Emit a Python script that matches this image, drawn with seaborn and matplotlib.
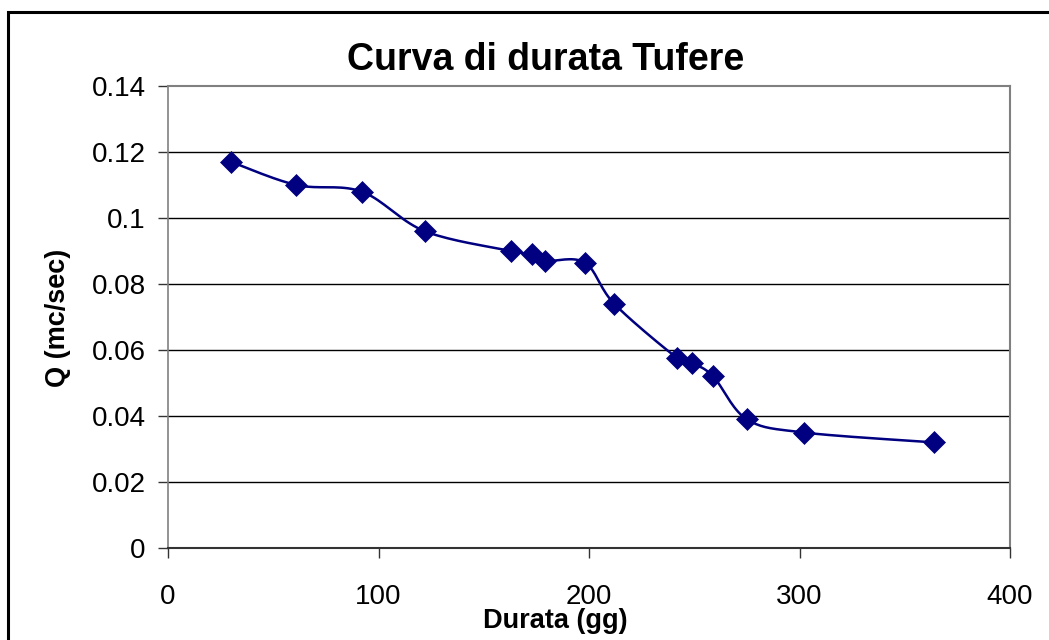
import numpy as np
import pandas as pd
import matplotlib
matplotlib.use("Agg")
import matplotlib.pyplot as plt
import seaborn as sns
from matplotlib.patches import Rectangle

# ---- data ----
durata = [30, 61, 92, 122, 163, 173, 179, 198, 212, 242, 249, 259, 275, 302, 364]
portata = [0.117, 0.110, 0.108, 0.096, 0.090, 0.089, 0.087, 0.0865, 0.074, 0.0575,
           0.056, 0.052, 0.039, 0.035, 0.032]
x_ticks = [0, 100, 200, 300, 400]
y_ticks = [0, 0.02, 0.04, 0.06, 0.08, 0.1, 0.12, 0.14]
y_labels = ["0", "0.02", "0.04", "0.06", "0.08", "0.1", "0.12", "0.14"]
title = "Curva di durata Tufere"
xlabel = "Durata (gg)"
ylabel = "Q (mc/sec)"

sns.set_style("white")
plt.rcParams['font.family'] = ['Liberation Sans', 'DejaVu Sans']
plt.rcParams['text.color'] = 'black'
plt.rcParams['xtick.color'] = 'black'
plt.rcParams['ytick.color'] = 'black'

fig = plt.figure(figsize=(10.49, 6.4), dpi=100)
ax = fig.add_axes([168/1049, 1-548/640, (1010-168)/1049, (548-86)/640])


def smooth(xs, ys, sx, sy, n=20):
    # Catmull-Rom (Excel-like) smoothing computed in screen-like space
    P = np.column_stack([np.asarray(xs) * sx, np.asarray(ys) * sy])
    out = [P[0]]
    for i in range(len(P) - 1):
        p0 = P[i - 1] if i > 0 else P[i]
        p1 = P[i]
        p2 = P[i + 1]
        p3 = P[i + 2] if i + 2 < len(P) else P[i + 1]
        c1 = p1 + (p2 - p0) / 6.0
        c2 = p2 - (p3 - p1) / 6.0
        t = np.linspace(0, 1, n)[1:, None]
        b = ((1 - t) ** 3) * p1 + 3 * ((1 - t) ** 2) * t * c1 + 3 * (1 - t) * t ** 2 * c2 + t ** 3 * p2
        out.extend(b)
    out = np.array(out)
    return out[:, 0] / sx, out[:, 1] / sy


sx_, sy_ = smooth(durata, portata, 842 / 400, 462 / 0.14)
line_df = pd.DataFrame({"x": sx_, "y": sy_})
pts_df = pd.DataFrame({"x": durata, "y": portata})

sns.lineplot(data=line_df, x="x", y="y", sort=False, color="#000080", lw=1.8, ax=ax)
sns.scatterplot(data=pts_df, x="x", y="y", marker="D", s=125, color="#000080",
                edgecolor="#000080", linewidth=0.5, ax=ax, zorder=5)

ax.set_xlim(0, 400)
ax.set_ylim(0, 0.14)
ax.set_xticks(x_ticks)
ax.set_xticklabels([str(v) for v in x_ticks], fontsize=20)
ax.set_yticks(y_ticks)
ax.set_yticklabels(y_labels, fontsize=20)
ax.set_xlabel("")
ax.set_ylabel("")

for y in y_ticks[1:-1]:
    ax.axhline(y, color="black", lw=1.0, zorder=1)

ax.spines["top"].set_color("#808080")
ax.spines["top"].set_linewidth(1.5)
ax.spines["right"].set_color("#808080")
ax.spines["right"].set_linewidth(1.5)
ax.spines["left"].set_color("#808080")
ax.spines["left"].set_linewidth(1.2)
ax.spines["bottom"].set_color("#333333")
ax.spines["bottom"].set_linewidth(1.5)
for s in ax.spines.values():
    s.set_visible(True)

ax.tick_params(axis="both", direction="out", length=7, width=1, color="#333333",
               pad=9, left=True, bottom=True)
ax.tick_params(axis="x", pad=19)

fig.text(546/1049, 1-60/640, title, ha="center", va="center", fontsize=27, fontweight="bold")
fig.text(555/1049, 1-621/640, xlabel, ha="center", va="center", fontsize=19.5, fontweight="bold")
fig.text(58/1049, 1-318/640, ylabel, ha="center", va="center", rotation=90, fontsize=19.5, fontweight="bold")

fig.patches.append(Rectangle((8/1049, -0.1), 1.2, 1 - 12/640 + 0.1, transform=fig.transFigure,
                             fill=False, edgecolor="black", lw=2.2))

fig.savefig("out.png", dpi=100)
